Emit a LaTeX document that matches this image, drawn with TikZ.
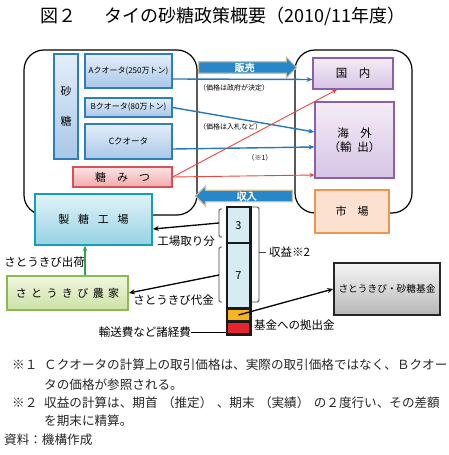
\documentclass[tikz,border=0pt]{standalone}
\usepackage{fontspec}
\setmainfont{Noto Sans CJK JP}
\newfontfamily\bannerfont[FakeBold=2]{Noto Sans CJK JP}
\usetikzlibrary{arrows.meta,positioning,calc,shapes.arrows}
\newcommand{\jfs}[1]{\fontsize{#1bp}{#1bp}\selectfont}
\newcommand{\lp}{\hspace{.35em}（}
\newcommand{\rp}{）\hspace{.35em}}
\definecolor{qblue}{RGB}{46,126,184}
\definecolor{qtop}{RGB}{228,238,249}
\definecolor{qbot}{RGB}{168,199,232}
\definecolor{molred}{RGB}{215,80,85}
\definecolor{moltop}{RGB}{252,228,228}
\definecolor{molbot}{RGB}{240,170,172}
\definecolor{mktpurple}{RGB}{140,95,170}
\definecolor{mkttop}{RGB}{244,236,247}
\definecolor{mktbot}{RGB}{214,196,228}
\definecolor{mktorange}{RGB}{240,150,75}
\definecolor{mktpeach}{RGB}{253,225,208}
\definecolor{factteal}{RGB}{20,160,180}
\definecolor{facttop}{RGB}{226,243,248}
\definecolor{factbot}{RGB}{150,210,228}
\definecolor{farmgreen}{RGB}{140,185,80}
\definecolor{farmtop}{RGB}{240,246,224}
\definecolor{farmbot}{RGB}{204,225,165}
\definecolor{bannerblue}{RGB}{40,135,200}
\definecolor{bannertan}{RGB}{200,190,160}
\definecolor{barblue}{RGB}{214,236,243}
\definecolor{barorange}{RGB}{246,180,30}
\definecolor{barred}{RGB}{228,37,47}
\definecolor{arrblue}{RGB}{40,120,185}
\definecolor{arrred}{RGB}{235,70,60}
\definecolor{arrgreen}{RGB}{40,165,80}
\tikzset{
  frame/.style={draw=black, line width=1.2bp, rounded corners=20bp},
  quota/.style={draw=qblue, line width=1.2bp, top color=qtop, bottom color=qbot, inner sep=0pt, font=\jfs{8}},
  molbox/.style={draw=molred, line width=1.2bp, top color=moltop, bottom color=molbot, inner sep=0pt, font=\jfs{11}},
  mktbox/.style={draw=mktpurple, line width=1.2bp, top color=mkttop, bottom color=mktbot, inner sep=0pt, font=\jfs{11.5}, align=center},
  mktbox2/.style={draw=mktorange, line width=1.6bp, fill=mktpeach, inner sep=0pt, font=\jfs{11}},
  factbox/.style={draw=factteal, line width=1.6bp, top color=facttop, bottom color=factbot, inner sep=0pt, font=\jfs{11}},
  farmbox/.style={draw=farmgreen, line width=1.6bp, top color=farmtop, bottom color=farmbot, inner sep=0pt, font=\jfs{11}},
  fundbox/.style={draw=black!85, line width=1.6bp, top color=black!4, bottom color=black!28, inner sep=0pt, font=\jfs{9.7}},
  banner/.style={single arrow, draw=bannertan, line width=1.2bp, fill=bannerblue, text=white, font=\bannerfont\jfs{10},
    inner xsep=2bp, inner ysep=0.5bp, single arrow head extend=4.5bp, single arrow head indent=0bp},
  barseg/.style={draw=black!90, line width=2.5bp, minimum width=23.5bp, inner sep=0pt, font=\jfs{11}},
  brk/.style={draw=black!75, line width=0.8bp, rounded corners=1.5bp},
  lbl/.style={inner sep=0pt, font=\jfs{11.5}},
  small/.style={inner sep=0pt, font=\jfs{7}},
  note/.style={inner sep=0pt, font=\jfs{12.6}, text=black!85},
  barr/.style={-{Stealth[length=6bp,width=5bp]}, arrblue, line width=1.4bp},
  rarr/.style={-{Stealth[length=5bp,width=4.5bp]}, arrred, line width=0.9bp},
  karr/.style={-{Stealth[length=6bp,width=5bp]}, black, line width=1.3bp},
  garr/.style={-{Stealth[length=5bp,width=4.5bp]}, arrgreen, line width=1.2bp},
}

\begin{document}
\begin{tikzpicture}[x=1bp,y=-1bp]
  \useasboundingbox (0,0) rectangle (449,455);
  \node[font=\jfs{18}, inner sep=0pt] (title) at (223,16) {図２\hspace{1.6em}タイの砂糖政策概要（2010/11年度）};

  % producer side and market side
  \draw[frame] (24,50) rectangle (197,215);
  \draw[frame] (295,50) rectangle (412,213);

  \node[quota, minimum width=24bp, minimum height=105bp, align=center, font=\jfs{11}] (sato) at (66,106.5) {砂\\[19bp]糖};
  \node[quota, minimum width=87bp, minimum height=34bp] (qa) at (128.5,71) {Aクオータ(250万トン)};
  \node[quota, minimum width=87bp, minimum height=19bp] (qb) at (128.5,107.5) {Bクオータ(80万トン)};
  \node[quota, minimum width=87bp, minimum height=35bp, font=\jfs{8.5}] (qc) at (128.5,141.5) {Cクオータ};
  \node[molbox, minimum width=99bp, minimum height=20bp] (mol) at (122.5,177) {糖\hspace{1em}み\hspace{1em}つ};

  \node[mktbox, minimum width=80bp, minimum height=31bp] (dom) at (353,73.5) {国\hspace{1em}内};
  \node[mktbox, minimum width=79bp, minimum height=76bp] (exp) at (354.5,140) {海\hspace{1em}外\\[3bp]（輸\hspace{.5em}出）};
  \node[mktbox2, minimum width=74bp, minimum height=43bp] (mkt) at (352,211.5) {市\hspace{1em}場};

  \node[factbox, minimum width=117bp, minimum height=51bp] (fact) at (93.5,219.5) {製\hspace{.8em}糖\hspace{.8em}工\hspace{.8em}場};
  \node[farmbox, minimum width=121bp, minimum height=34bp] (farm) at (67.5,293) {さ\hspace{.4em}と\hspace{.4em}う\hspace{.4em}き\hspace{.4em}び\hspace{.4em}農\hspace{.4em}家};
  \node[fundbox, minimum width=106bp, minimum height=52bp] (fund) at (387,289) {さとうきび・砂糖基金};

  % banners
  \node[banner, minimum height=98bp, anchor=tail] (sale) at (198,67.5) {販売};
  \node[banner, minimum height=97bp, shape border rotate=180, anchor=tail] (income) at (293,196) {収入};

  \node[small, anchor=west] (pgov) at (199,88) {（価格は政府が決定）};
  \node[small, anchor=west] (pbid) at (199,127) {（価格は入札など）};
  \node[small] (nt1) at (260,158) {（※1）};

  % sales flows
  \draw[barr] ([yshift=-8bp]qa.east) -- ([yshift=-6bp]dom.west);
  \draw[barr] (qb.east) -- ([yshift=8bp]exp.west);
  \draw[barr] ([yshift=-7.5bp]qc.east) -- ([yshift=-7bp]exp.west);
  \draw[rarr] (mol.east) -- ([xshift=-16bp]dom.south);
  \draw[rarr] (mol.east) -- ([yshift=-35bp]exp.west);

  % revenue bar
  \node[barseg, fill=barblue, minimum height=35.8bp] (seg3) at (238.5,225.1) {3};
  \node[barseg, fill=barblue, minimum height=65.5bp] (seg7) at (238.5,275.75) {7};
  \node[barseg, fill=barorange, minimum height=13bp] (segor) at (238.5,315) {};
  \node[barseg, fill=barred, minimum height=13bp] (segred) at (238.5,328) {};

  \draw[brk] (222,209) -| (219,237) -- (222,237);
  \draw[brk] (222,247) -| (219,302) -- (222,302);
  \draw[brk] (252,207) -| (259,302) -- (252,302);
  \coordinate (brk3) at (219,223);
  \coordinate (brk7) at (219,275);
  \coordinate (brkrev) at (259,252);
  \node[lbl, anchor=west] (rev) at (269,252) {収益※2};
  \draw[brk] (brkrev) -- ([xshift=-3bp]rev.west);

  \node[lbl] (lfact) at (186,241) {工場取り分};
  \node[lbl] (lcane) at (173.5,300) {さとうきび代金};
  \node[lbl] (lship) at (44.5,262) {さとうきび出荷};
  \node[lbl, anchor=east] (cost) at (191,332) {輸送費など諸経費};
  \node[lbl, anchor=west] (lfund) at (254,325) {基金への拠出金};

  \draw[karr] (brk3) -- ([yshift=-9.5bp]fact.east);
  \draw[karr] (brk7) -- (farm.east);
  \draw[karr] (segor.center) -- (fund.west);
  \draw[black, line width=1bp] (cost.east) -- (cost.east -| segred.west);
  \draw[garr] ([xshift=17.5bp]farm.north) -- ([xshift=17.5bp]farm.north |- fact.south);

  % notes
  \node[note, anchor=west] (n1m) at (12,365) {※１};
  \node[note, anchor=west] (n1a) at (44,365) {Ｃクオータの計算上の取引価格は、実際の取引価格ではなく、Ｂクオー};
  \node[note, anchor=west] (n1b) at (44,385) {タの価格が参照される。};
  \node[note, anchor=west] (n2m) at (12,403) {※２};
  \node[note, anchor=west] (n2a) at (44,403) {収益の計算は、期首\lp 推定\rp 、期末\lp 実績\rp の２度行い、その差額};
  \node[note, anchor=west] (n2b) at (44,421) {を期末に精算。};
  \node[note, anchor=west] (src) at (4,440) {資料：機構作成};
\end{tikzpicture}
\end{document}
